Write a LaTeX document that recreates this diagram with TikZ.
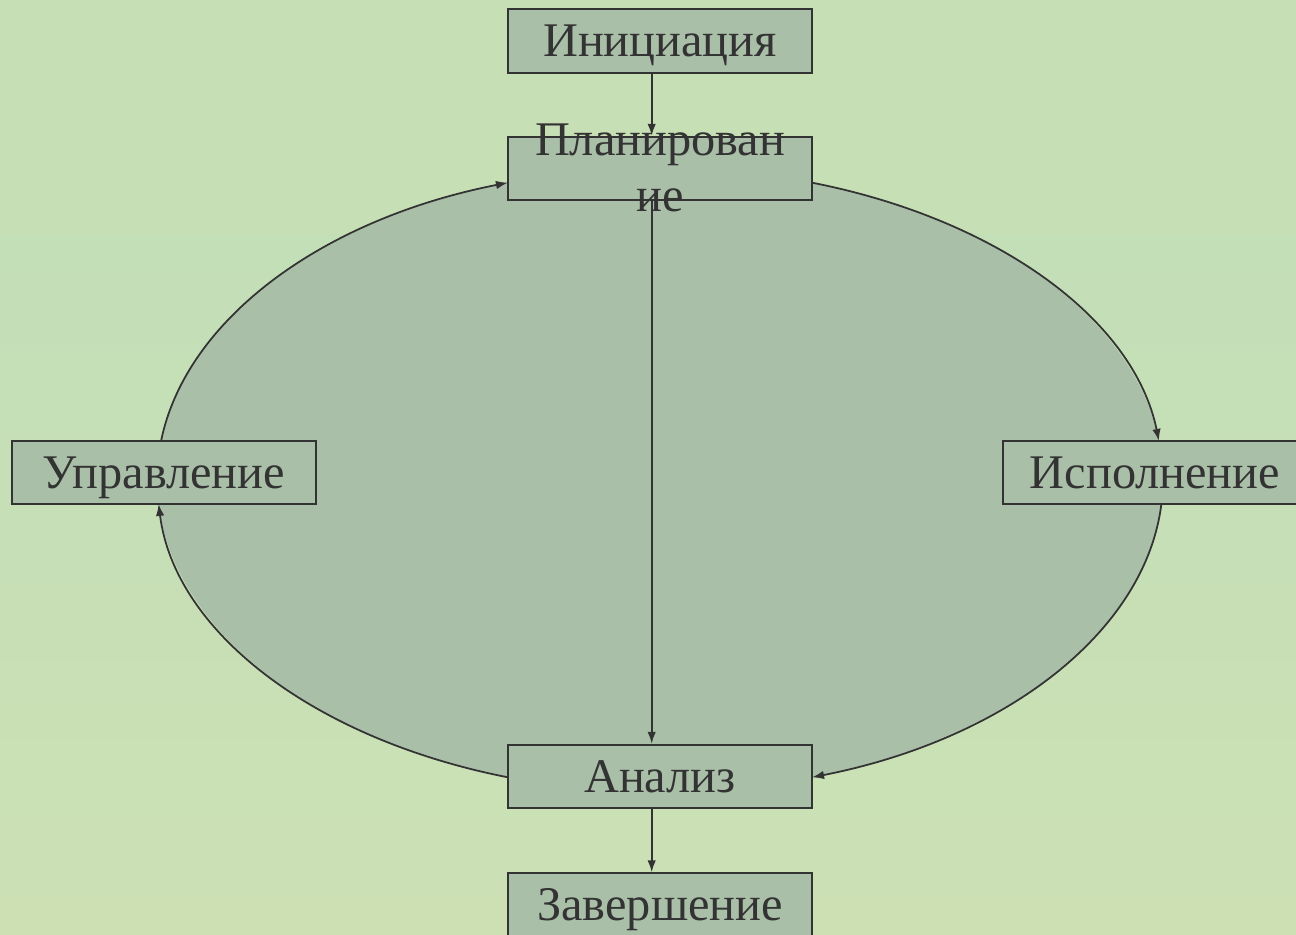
\documentclass[tikz,border=0pt]{standalone}
\usepackage{fontspec}
\setmainfont{Liberation Serif}
\usetikzlibrary{arrows.meta}
\definecolor{bg}{HTML}{C0DEB8}
\definecolor{bgy}{HTML}{CCE0B4}
\definecolor{fillg}{HTML}{A9BFA8}
\definecolor{ink}{HTML}{333333}
\tikzset{
  stagebox/.style={draw=ink, line width=1.1pt, fill=fillg, minimum width=6.08cm, minimum height=1.27cm, inner sep=0pt, text=ink, text height=18.2pt, text depth=0pt, font=\fontsize{27.5}{32}\selectfont},
  stagetext/.style={text=ink, font=\fontsize{27.5}{31.8}\selectfont, align=center, inner sep=0pt},
  flow/.style={draw=ink, line width=1pt, -{Latex[length=2.4mm,width=1.7mm]}}
}
\begin{document}
\begin{tikzpicture}[x=0.02cm,y=0.02cm]
\useasboundingbox (0,0) rectangle (1296,934);
\clip (0,0) rectangle (1296,934);
% background
\shade[left color=bg, right color=bgy, shading angle=0] (0,0) rectangle (1296,934);
\fill[bgy, opacity=0.5] (0,934) rectangle (1296,700);
% ellipse fill
\coordinate (c) at (660,454);
\fill[fillg] (c) ellipse [x radius=10.06cm, y radius=6.24cm];
% cycle arcs
\draw[flow] ([shift={(172.8:10.06cm and 6.24cm)}]c) arc[start angle=172.8, end angle=107.6, x radius=10.06cm, y radius=6.24cm];
\draw[flow] ([shift={(72.4:10.06cm and 6.24cm)}]c) arc[start angle=72.4, end angle=7.2, x radius=10.06cm, y radius=6.24cm];
\draw[flow] ([shift={(-4.4:10.06cm and 6.24cm)}]c) arc[start angle=-4.4, end angle=-72.4, x radius=10.06cm, y radius=6.24cm];
\draw[flow] ([shift={(252.4:10.06cm and 6.24cm)}]c) arc[start angle=252.4, end angle=184.4, x radius=10.06cm, y radius=6.24cm];
% boxes
\node[stagebox] (init) at (660,893) {Инициация};
\node[stagebox] (plan) at (660,765.5) {};
\node[stagebox] (upr) at (164,461.5) {Управление};
\node[stagebox] (isp) at (1155,461.5) {Исполнение};
\node[stagebox] (anal) at (660,157.5) {Анализ};
\node[stagebox] (zav) at (660,29) {Завершение};
\node[stagetext] (planT) at (660,766) {Планирован\\ие};
% vertical connectors
\draw[flow] ([xshift=-0.166cm]init.south) -- ([xshift=-0.166cm]plan.north);
\draw[flow] ([xshift=-0.166cm]plan.south) -- ([xshift=-0.166cm]anal.north);
\draw[flow] ([xshift=-0.166cm]anal.south) -- ([xshift=-0.166cm]zav.north);
\end{tikzpicture}
\end{document}
